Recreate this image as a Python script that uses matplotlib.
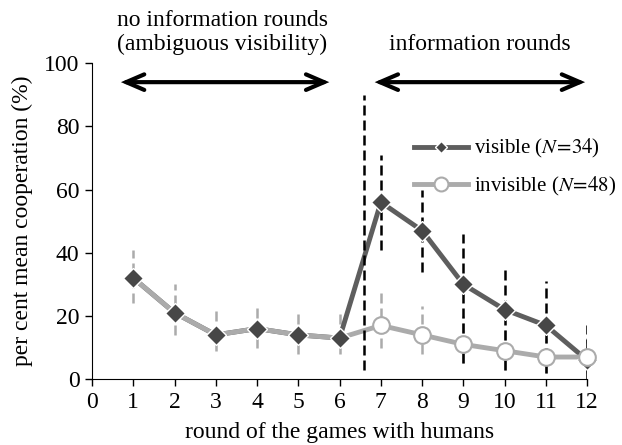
import matplotlib
matplotlib.use("Agg")
import matplotlib.pyplot as plt
from matplotlib.lines import Line2D

# Duomenys nuskaityti is paveikslo
rounds = [1, 2, 3, 4, 5, 6, 7, 8, 9, 10, 11, 12]
visible = [32, 21, 14, 16, 14, 13, 56, 47, 30, 22, 17, 6]
invisible = [32, 21, 14, 16, 14, 13, 17, 14, 11, 9, 7, 7]
# paklaidu ribos (apacia, virsus)
pre_lo = [24, 14, 9, 10, 8, 8]
pre_hi = [41, 30, 22, 24, 22, 21]
vis_lo = [41, 34, 5, 3, 2, 0]
vis_hi = [71, 60, 46, 35, 31, 17]
inv_lo = [10, 8, 5, 3, 2, 2]
inv_hi = [28, 23, 20, 16, 13, 13]

plt.rcParams["font.family"] = ["Liberation Serif", "DejaVu Serif"]
plt.rcParams["mathtext.fontset"] = "stix"
plt.rcParams["font.size"] = 17

DARK = "#5e5e5e"
DARK_MK = "#474747"
LIGHT = "#ababab"

fig = plt.figure(figsize=(6.22, 4.45), dpi=100)
ax = fig.add_axes([0.148, 0.148, 0.796, 0.71])

# paklaidos: pirmi 6 raundai bendri
for r, lo, hi in zip(rounds[:6], pre_lo, pre_hi):
    ax.plot([r, r], [lo, hi], color=LIGHT, lw=1.8, ls=(0, (4, 2)), zorder=1)
for r, lo, hi in zip(rounds[6:], inv_lo, inv_hi):
    ax.plot([r, r], [lo, hi], color=LIGHT, lw=1.8, ls=(0, (4, 2)), zorder=1)
for r, lo, hi in zip(rounds[6:], vis_lo, vis_hi):
    ax.plot([r, r], [lo, hi], color="black", lw=1.8, ls=(0, (4, 2)), zorder=1.5)

ax.plot(rounds, visible, color=DARK, lw=3.5, zorder=2, solid_capstyle="round")
ax.plot(rounds, invisible, color=LIGHT, lw=3.5, zorder=3, solid_capstyle="round")
ax.plot(rounds, visible, ls="none", marker="D", ms=10, mfc=DARK_MK, mec="white",
        mew=1.0, zorder=4, clip_on=False)
ax.plot(rounds[6:], invisible[6:], ls="none", marker="o", ms=12, mfc="white",
        mec=LIGHT, mew=1.5, zorder=5, clip_on=False)

# vertikali skirtuku linija
ax.plot([6.6, 6.6], [3, 90], color="black", lw=1.8, ls=(0, (4, 2)), zorder=6,
        clip_on=False)

# rodykles
arrow = dict(arrowstyle="<->,head_length=0.65,head_width=0.28", color="black",
             lw=3, mutation_scale=20, shrinkA=0, shrinkB=0, joinstyle="miter")
ax.annotate("", xy=(0.7, 94), xytext=(5.75, 94), arrowprops=arrow,
            annotation_clip=False)
ax.annotate("", xy=(6.85, 94), xytext=(11.95, 94), arrowprops=arrow,
            annotation_clip=False)

ax.text(3.15, 102.5, "no information rounds\n(ambiguous visibility)",
        ha="center", va="bottom", linespacing=1.2)
ax.text(9.4, 102.5, "information rounds", ha="center", va="bottom")

handles = [
    Line2D([], [], color=DARK, lw=3.5, marker="D", ms=6, mfc=DARK_MK, mec="white"),
    Line2D([], [], color=LIGHT, lw=3.5, marker="o", ms=10, mfc="white", mec=LIGHT, mew=1.5),
]
ax.legend(handles, ["visible ($N\\!=\\!34$)", "invisible ($N\\!=\\!48$)"],
          loc="upper left", bbox_to_anchor=(0.65, 0.765), frameon=False, fontsize=15,
          handlelength=2.6, handletextpad=0.3, labelspacing=0.7, borderaxespad=0,
          borderpad=0)

ax.set_xlim(0, 12)
ax.set_ylim(0, 100)
ax.set_xticks(range(0, 13))
ax.set_yticks(range(0, 101, 20))
ax.spines["top"].set_visible(False)
ax.spines["right"].set_visible(False)
ax.tick_params(direction="out", length=5, width=1, pad=4)
ax.set_xlabel("round of the games with humans", labelpad=7)
ax.set_ylabel("per cent mean cooperation (%)", labelpad=8)

fig.savefig("out.png", dpi=100)
